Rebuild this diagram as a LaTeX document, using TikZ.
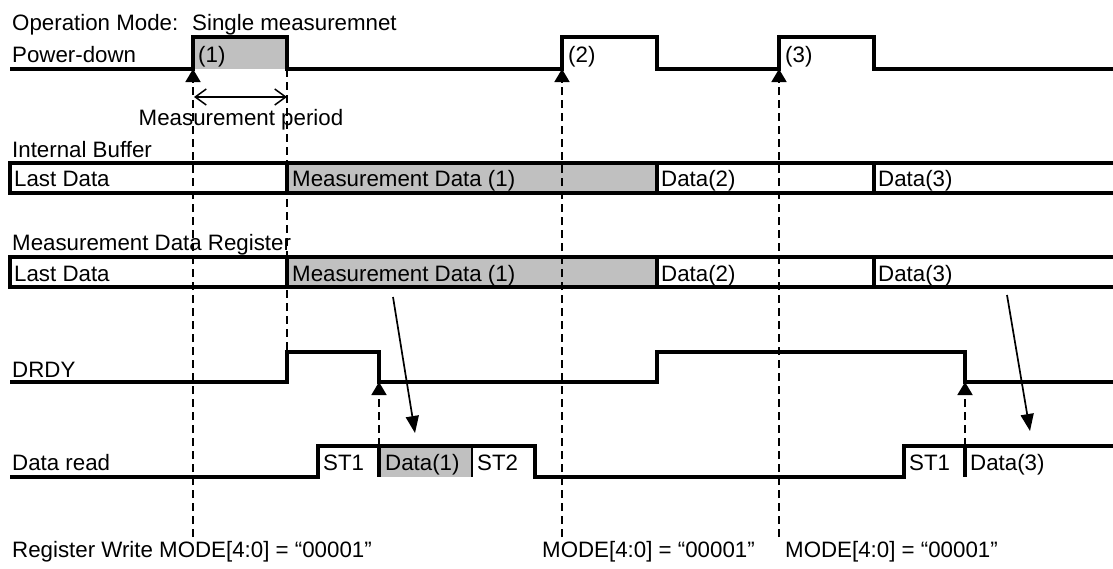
\documentclass[tikz,border=0pt]{standalone}
\usepackage{fontspec}
\setmainfont{Liberation Sans}
\usetikzlibrary{arrows.meta}
\definecolor{fillg}{RGB}{192,192,192}
\begin{document}
\begin{tikzpicture}[x=1pt,y=-1pt,
  sig/.style={line width=3.2pt, line join=miter},
  guide/.style={line width=1.8pt, dash pattern=on 8pt off 5pt},
  uptip/.style={-{Triangle[length=13pt,width=15pt]}},
  lbl/.style={anchor=base west, inner sep=0pt, font=\fontsize{22.3}{26}\selectfont},
  clbl/.style={anchor=base, inner sep=0pt, font=\fontsize{22.3}{26}\selectfont},
  shade/.style={fill=fillg, draw=none},
  rdarrow/.style={line width=1.7pt, -{Triangle[length=17pt,width=13pt]}},
  period/.style={line width=1.5pt, {Straight Barb[length=11pt,width=16pt]}-{Straight Barb[length=11pt,width=16pt]}}
]
\useasboundingbox (0,0) rectangle (1113,568);

% ---------- shaded areas ----------
\fill[shade] (193,37) rectangle (287,69);
\fill[shade] (287,163) rectangle (657,193);
\fill[shade] (287,257) rectangle (657,287);
\fill[shade] (379,446) rectangle (472,477);

% ---------- texts ----------
\node[lbl] (opm) at (12,30) {Operation Mode:};
\node[lbl] (single) at (192,30) {Single measuremnet};
\node[lbl] (pdl) at (12,62) {Power-down};
\node[lbl] (p1) at (198,62) {(1)};
\node[lbl] (p2) at (568,62) {(2)};
\node[lbl] (p3) at (785,62) {(3)};
\node[clbl] (mpl) at (241,125) {Measurement period};
\node[lbl] (ibl) at (12,157) {Internal Buffer};
\node[lbl] (ib0) at (14,186) {Last Data};
\node[lbl] (ib1) at (292,186) {Measurement Data (1)};
\node[lbl] (ib2) at (661,186) {Data(2)};
\node[lbl] (ib3) at (878,186) {Data(3)};
\node[lbl] (mrl) at (12,250) {Measurement Data Register};
\node[lbl] (mr0) at (14,281) {Last Data};
\node[lbl] (mr1) at (292,281) {Measurement Data (1)};
\node[lbl] (mr2) at (661,281) {Data(2)};
\node[lbl] (mr3) at (878,281) {Data(3)};
\node[lbl] (drl) at (12,377) {DRDY};
\node[lbl] (dsl) at (12,470) {Data read};
\node[lbl] (st1a) at (323,470) {ST1};
\node[lbl] (d1) at (385,470) {Data(1)};
\node[lbl] (st2) at (477,470) {ST2};
\node[lbl] (st1b) at (909,470) {ST1};
\node[lbl] (d3) at (970,470) {Data(3)};
\node[lbl] (rw) at (12,557) {Register Write};
\node[lbl] (m1) at (159,557) {MODE[4:0] = “00001”};
\node[lbl] (m2) at (542,557) {MODE[4:0] = “00001”};
\node[lbl] (m3) at (785,557) {MODE[4:0] = “00001”};

% ---------- coordinates ----------
\coordinate (w1b) at (193,537); \coordinate (w1t) at (193,69);
\coordinate (w2b) at (562,537); \coordinate (w2t) at (562,69);
\coordinate (w3b) at (779,537); \coordinate (w3t) at (779,69);
\coordinate (mt) at (287,69);  \coordinate (mb) at (287,352);
\coordinate (r1b) at (379,446); \coordinate (r1t) at (379,382);
\coordinate (r2b) at (965,446); \coordinate (r2t) at (965,382);
\coordinate (a1s) at (393,297); \coordinate (a1e) at (415,433);
\coordinate (a2s) at (1007,295); \coordinate (a2e) at (1030,431);
\coordinate (mp1) at (194,97); \coordinate (mp2) at (287,97);

% ---------- guides ----------
\draw[guide, uptip] (w1b) -- (w1t);
\draw[guide, uptip] (w2b) -- (w2t);
\draw[guide, uptip] (w3b) -- (w3t);
\draw[guide] (mt) -- (mb);
\draw[guide, uptip] (r1b) -- (r1t);
\draw[guide, uptip] (r2b) -- (r2t);

% ---------- signals ----------
% Power-down
\draw[sig] (10,69) -- (193,69) -- (193,37) -- (287,37) -- (287,69) -- (562,69) -- (562,37)
  -- (657,37) -- (657,69) -- (779,69) -- (779,37) -- (874,37) -- (874,69) -- (1113,69);
% Internal buffer
\draw[sig] (1113,163) -- (10,163) -- (10,193) -- (1113,193);
\draw[sig] (287,163) -- (287,193);
\draw[sig] (657,163) -- (657,193);
\draw[sig] (874,163) -- (874,193);
% Measurement data register
\draw[sig] (1113,257) -- (10,257) -- (10,287) -- (1113,287);
\draw[sig] (287,257) -- (287,287);
\draw[sig] (657,257) -- (657,287);
\draw[sig] (874,257) -- (874,287);
% DRDY
\draw[sig] (10,382) -- (287,382) -- (287,352) -- (379,352) -- (379,382) -- (657,382) -- (657,352)
  -- (965,352) -- (965,382) -- (1113,382);
% Data read
\draw[sig] (10,477) -- (318,477) -- (318,446) -- (535,446) -- (535,477) -- (904,477) -- (904,446) -- (1113,446);
\draw[sig] (379,446) -- (379,477);
\draw[line width=2pt] (472,446) -- (472,477);
\draw[sig] (965,446) -- (965,477);

% ---------- arrows ----------
\draw[period] (mp1) -- (mp2);
\draw[rdarrow] (a1s) -- (a1e);
\draw[rdarrow] (a2s) -- (a2e);
\end{tikzpicture}
\end{document}
